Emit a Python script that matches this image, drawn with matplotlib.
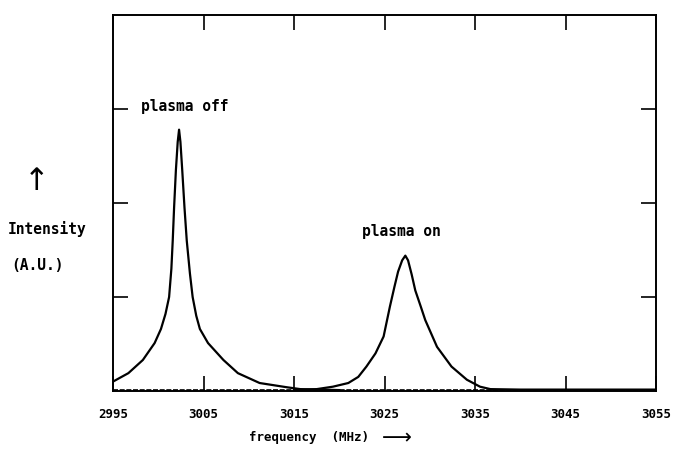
import matplotlib
matplotlib.use('Agg')
import matplotlib.pyplot as plt

# Data (frequency in MHz, intensity in A.U.)
off_freq = [2995.0, 2996.7, 2998.3, 2999.6, 3000.3, 3000.8, 3001.2, 3001.45, 3001.6,
            3001.75, 3001.95, 3002.15, 3002.3, 3002.45, 3002.65, 3002.9, 3003.15,
            3003.5, 3003.8, 3004.2, 3004.6, 3005.5, 3007.2, 3008.8, 3011.2,
            3014.2, 3015.7, 3018.0, 3020.0]
off_int = [0.10, 0.19, 0.33, 0.51, 0.66, 0.82, 1.00, 1.30, 1.60,
           1.95, 2.35, 2.65, 2.78, 2.65, 2.35, 1.95, 1.60,
           1.25, 1.00, 0.80, 0.66, 0.51, 0.33, 0.19, 0.085,
           0.04, 0.02, 0.015, 0.01]

on_freq = [3015.0, 3017.5, 3019.3, 3021.0, 3022.1, 3023.0, 3024.0, 3024.9, 3025.6,
           3026.1, 3026.5, 3026.95, 3027.3, 3027.6, 3028.0, 3028.4, 3029.0, 3029.5,
           3030.8, 3032.4, 3034.1, 3035.55, 3036.7, 3040.0, 3045.0, 3050.0, 3055.0]
on_int = [0.01, 0.02, 0.046, 0.085, 0.15, 0.26, 0.40, 0.58, 0.90,
          1.11, 1.27, 1.39, 1.44, 1.39, 1.24, 1.07, 0.90, 0.755,
          0.47, 0.26, 0.12, 0.046, 0.02, 0.015, 0.015, 0.015, 0.015]

base_freq = [2995.0, 3055.0]
base_int = [0.01, 0.01]

xticks = [2995, 3005, 3015, 3025, 3035, 3045, 3055]
yticks = [1, 2, 3]

small = {'family': 'DejaVu Sans Mono', 'weight': 'bold', 'size': 9}
big = {'family': 'DejaVu Sans Mono', 'weight': 'bold', 'size': 10.5}

fig = plt.figure(figsize=(6.75, 4.5), dpi=100)
ax = fig.add_axes([0.1674, 0.1311, 0.8045, 0.8356])

ax.plot(base_freq, base_int, color='k', lw=1.2, ls=(0, (3, 1)))
ax.plot(off_freq, off_int, color='k', lw=1.6)
ax.plot(on_freq, on_int, color='k', lw=1.6)

ax.set_xlim(2995, 3055)
ax.set_ylim(0, 4)
ax.set_xticks(xticks)
ax.set_xticklabels([str(t) for t in xticks], fontdict=small)
ax.set_yticks(yticks)
ax.set_yticklabels([])
ax.tick_params(direction='in', length=11, width=1.2, top=True, right=True, pad=12)
for s in ax.spines.values():
    s.set_linewidth(1.4)

ax.text(3002.95, 2.95, 'plasma off', ha='center', va='bottom', fontdict=big)
ax.text(3026.9, 1.62, 'plasma on', ha='center', va='bottom', fontdict=big)

fig.text(37 / 675, 1 - 182 / 450, '\u2191', ha='center', va='center',
         fontsize=22, family='DejaVu Sans')
fig.text(47 / 675, 1 - 229 / 450, 'Intensity', ha='center', va='center', fontdict=big)
fig.text(38 / 675, 1 - 266 / 450, '(A.U.)', ha='center', va='center', fontdict=big)
fig.text(309 / 675, 1 - 437 / 450, 'frequency  (MHz)', ha='center', va='center', fontdict=small)
fig.text(397 / 675, 1 - 438 / 450, '\u27f6', ha='center', va='center',
         fontsize=15, family='DejaVu Sans')

fig.savefig('out.png', dpi=100)
